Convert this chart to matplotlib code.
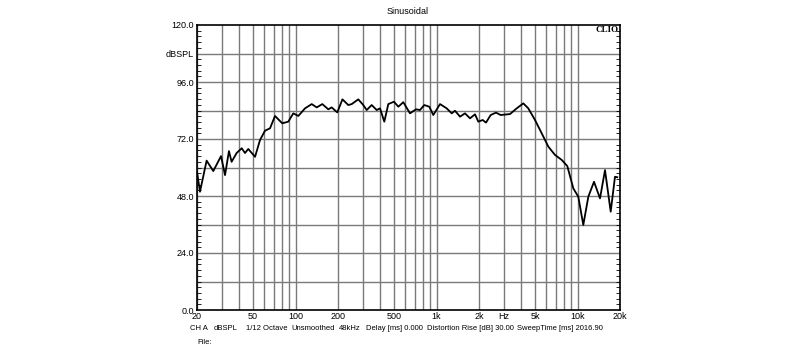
import numpy as np
import matplotlib
matplotlib.use("Agg")
import matplotlib.pyplot as plt
from matplotlib.ticker import FixedLocator, MultipleLocator

plt.rcParams['font.family'] = ['Liberation Sans', 'DejaVu Sans']

# frequency response (Hz, dBSPL)
freq = [20, 21.0, 23.4, 26.1, 29.6, 31.6, 33.7, 35.2, 38.2, 41.5, 43.8, 46.2,
        51.6, 56.0, 60.7, 65.9, 71.5, 80.5, 88.8, 96.4, 104.6, 116.7, 130.2,
        141.3, 154.8, 170.7, 180.4, 197.7, 215, 236.6, 250.2, 278.6, 302.2,
        319.6, 346.8, 376.4, 397.2, 426, 454.8, 499, 535.6, 581, 648, 714.8,
        763, 818.6, 888, 948, 1058, 1180, 1281, 1351, 1467, 1591, 1727, 1874,
        1977, 2124, 2242, 2421, 2640, 2850, 3318, 3702, 4124, 4474, 4992,
        5568, 6202, 6918, 7718, 8458, 9334, 10122, 10984, 11922, 13082,
        14430, 15656, 17180, 18430, 19140]
spl = [58.2, 49.8, 62.9, 58.5, 64.8, 56.8, 66.9, 62.4, 66.1, 68.1, 66.1, 67.8,
       64.5, 71.6, 75.5, 76.5, 81.7, 78.6, 79.3, 82.8, 81.7, 84.9, 86.7,
       85.3, 86.7, 84.5, 85.3, 83.2, 88.7, 86.3, 86.7, 88.7, 86.3,
       84.2, 86.3, 84.2, 84.9, 79.3, 86.7, 87.7, 85.6, 87.5, 82.8, 84.5,
       84.2, 86.3, 85.6, 82.1, 86.7, 84.9, 82.8, 83.9, 81.4, 82.8, 80.7, 82.4,
       79.3, 80.0, 78.9, 82.1, 83.1, 82.1, 82.5, 84.9, 87.0, 84.9, 80.0,
       74.4, 68.8, 65.3, 63.2, 60.6, 51.2, 47.7, 35.8, 47.7, 54.0,
       47.0, 58.9, 41.4, 56.1, 55.9]

grid_freqs = ([20, 30, 40, 50, 60, 70, 80, 90, 100, 200, 300, 400, 500, 600,
               700, 800, 900, 1000, 2000, 3000, 4000, 5000, 6000, 7000, 8000,
               9000, 10000, 20000])
xtick_vals = [20, 50, 100, 200, 500, 1000, 2000, 3000, 5000, 10000, 20000]
xtick_labels = ['20', '50', '100', '200', '500', '1k', '2k', 'Hz', '5k', '10k', '20k']
ytick_vals = [0, 24, 48, 72, 96, 108, 120]
ytick_labels = ['0.0', '24.0', '48.0', '72.0', '96.0', 'dBSPL', '120.0']

info_parts = ['CH A', 'dBSPL', '1/12 Octave', 'Unsmoothed', '48kHz',
              'Delay [ms] 0.000', 'Distortion Rise [dB] 30.00',
              'SweepTime [ms] 2016.90']
info_x = [190, 214, 246, 291, 339, 366, 427, 517]

fig = plt.figure(figsize=(8, 3.59), dpi=100)
ax = fig.add_axes([197 / 800, 1 - 310 / 359, 423 / 800, 285 / 359])

ax.set_xscale('log')
ax.set_xlim(20, 20000)
ax.set_ylim(0, 120)

for f in grid_freqs:
    ax.axvline(f, color='#7a7a7a', lw=1.0, zorder=1)
for v in range(12, 120, 12):
    ax.axhline(v, color='#7a7a7a', lw=1.0, zorder=1)

ax.plot(freq, spl, color='black', lw=1.3, zorder=3)

ax.xaxis.set_major_locator(FixedLocator(xtick_vals))
ax.set_xticklabels(xtick_labels)
ax.xaxis.set_minor_locator(FixedLocator([]))
ax.tick_params(axis='x', length=0, pad=1.5, labelsize=6.5)

ax.yaxis.set_major_locator(FixedLocator(ytick_vals))
ax.set_yticklabels(ytick_labels)
ax.yaxis.set_minor_locator(MultipleLocator(2.4))
ax.tick_params(axis='y', which='major', length=0, pad=2, labelsize=6.5)
ax.tick_params(axis='y', which='minor', direction='in', length=3,
               width=0.6, left=True, right=True)

for s in ax.spines.values():
    s.set_linewidth(1.2)
    s.set_color('black')

fig.text(408 / 800, 1 - 12 / 359, 'Sinusoidal', ha='center', va='center', fontsize=6.5)
ax.text(0.997, 0.995, 'CLIO', transform=ax.transAxes, ha='right', va='top',
        fontsize=6.5, fontweight='bold', family='Liberation Serif')

for part, px in zip(info_parts, info_x):
    fig.text(px / 800, 1 - 328 / 359, part, ha='left', va='center', fontsize=5.5)
fig.text(197 / 800, 1 - 342 / 359, 'File:', ha='left', va='center', fontsize=5.5)

fig.savefig('out.png', dpi=100)
